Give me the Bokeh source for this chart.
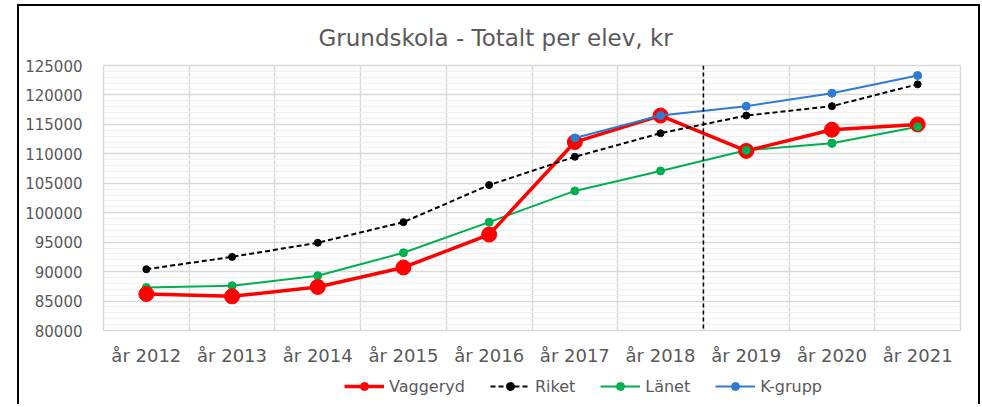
from bokeh.plotting import figure
from bokeh.layouts import column
from bokeh.models import (FixedTicker, Span, Legend, LegendItem, NumeralTickFormatter, Range1d)
from bokeh.embed import file_html
from bokeh.resources import INLINE

years = ["år 2012", "år 2013", "år 2014", "år 2015", "år 2016",
         "år 2017", "år 2018", "år 2019", "år 2020", "år 2021"]
vaggeryd = [86200, 85800, 87400, 90700, 96300, 112000, 116500, 110500, 114100, 115000]
riket = [90400, 92500, 94900, 98400, 104700, 109500, 113500, 116500, 118100, 121800]
lanet = [87300, 87600, 89300, 93200, 98400, 103700, 107100, 110600, 111800, 114600]
kgrupp = [None, None, None, None, None, 112700, 116500, 118100, 120300, 123300]
y_ticks = list(range(80000, 125001, 5000))
y_minor = list(range(80000, 125001, 1000))
divider_after = "år 2018"

TXT = "#595959"
FONT = "DejaVu Sans"

xs = [i + 0.5 for i in range(len(years))]

p = figure(width=959, height=362, x_range=(0, len(years)), y_range=(80000, 125000),
           output_backend="svg", toolbar_location=None,
           min_border_left=84, min_border_right=18, min_border_top=59, min_border_bottom=37)

p.title.text = "Grundskola - Totalt per elev, kr"
p.title.align = "left"
p.title.offset = 215
p.title.text_font = FONT
p.title.text_font_size = "23px"
p.title.text_font_style = "normal"
p.title.text_color = TXT
p.title.standoff = 29

p.outline_line_color = "#d9d9d9"
p.outline_line_width = 1.5

# axes
p.xaxis.ticker = FixedTicker(ticks=xs)
p.xaxis.major_label_overrides = {x: y for x, y in zip(xs, years)}
p.yaxis.ticker = FixedTicker(ticks=y_ticks, minor_ticks=y_minor)
p.yaxis.formatter = NumeralTickFormatter(format="0")
for a in (p.xaxis[0], p.yaxis[0]):
    a.axis_line_color = None
    a.major_tick_line_color = None
    a.minor_tick_line_color = None
    a.major_label_text_font = FONT
    a.major_label_text_color = TXT
ax = p.xaxis[0]
ax.major_label_text_font_size = "18px"
ax.major_label_standoff = 8
ay = p.yaxis[0]
ay.major_label_text_font_size = "15px"
ay.major_label_standoff = 15

p.xgrid.ticker = FixedTicker(ticks=list(range(len(years) + 1)))
p.xgrid.grid_line_color = "#d9d9d9"
p.xgrid.grid_line_width = 1.5
p.ygrid.grid_line_color = "#d9d9d9"
p.ygrid.grid_line_width = 1.5
p.ygrid.minor_grid_line_color = "#efefef"
p.ygrid.minor_grid_line_width = 1

# divider between 2018 and 2019
p.add_layout(Span(location=years.index(divider_after) + 1, dimension="height",
                  line_color="black", line_width=1.5, line_dash="4 3"))

# series
kx = [x for x, v in zip(xs, kgrupp) if v is not None]
kv = [v for v in kgrupp if v is not None]

p.line(xs, lanet, line_color="#00b050", line_width=2)
p.scatter(xs, lanet, size=8, color="#00b050")
p.line(xs, vaggeryd, line_color="#ff0000", line_width=3.5)
p.scatter(xs, vaggeryd, size=15, color="#ff0000")
p.line(kx, kv, line_color="#2e7bcf", line_width=2)
p.scatter(kx, kv, size=8, color="#2e7bcf")
p.line(xs, riket, line_color="black", line_width=2, line_dash="5 3")
p.scatter(xs, riket, size=7, color="black")
p.scatter(xs[7:], lanet[7:], size=8, color="#00b050")

# legend strip below the chart (proxy glyphs drawn outside its view)
q = figure(width=959, height=36, x_range=Range1d(-100, -99), y_range=Range1d(0, 1),
           x_axis_type=None, y_axis_type=None, output_backend="svg", toolbar_location=None,
           min_border=0)
q.outline_line_color = None
q_v = [q.line(xs, vaggeryd, line_color="#ff0000", line_width=3.5),
       q.scatter(xs, vaggeryd, size=15, color="#ff0000")]
q_r = [q.line(xs, riket, line_color="black", line_width=2, line_dash="5 3"),
       q.scatter(xs, riket, size=7, color="black")]
q_l = [q.line(xs, lanet, line_color="#00b050", line_width=2),
       q.scatter(xs, lanet, size=8, color="#00b050")]
q_k = [q.line(kx, kv, line_color="#2e7bcf", line_width=2),
       q.scatter(kx, kv, size=8, color="#2e7bcf")]

legend = Legend(items=[
    LegendItem(label="Vaggeryd", renderers=q_v),
    LegendItem(label="Riket", renderers=q_r),
    LegendItem(label="Länet", renderers=q_l),
    LegendItem(label="K-grupp", renderers=q_k),
], orientation="horizontal", location=(241, 8))
legend.glyph_width = 40
legend.glyph_height = 20
legend.label_text_font = FONT
legend.label_text_font_size = "16px"
legend.label_text_color = TXT
legend.label_standoff = 5
legend.spacing = 25
legend.padding = 0
legend.margin = 0
legend.border_line_color = None
legend.background_fill_alpha = 0
q.add_layout(legend)

lay = column(p, q, spacing=0)
lay.margin = (4, 0, 0, 17)
lay.styles = {"border-left": "2px solid black", "border-top": "2px solid black",
              "border-right": "2px solid black"}

open("out.html", "w").write(file_html(lay, INLINE))
